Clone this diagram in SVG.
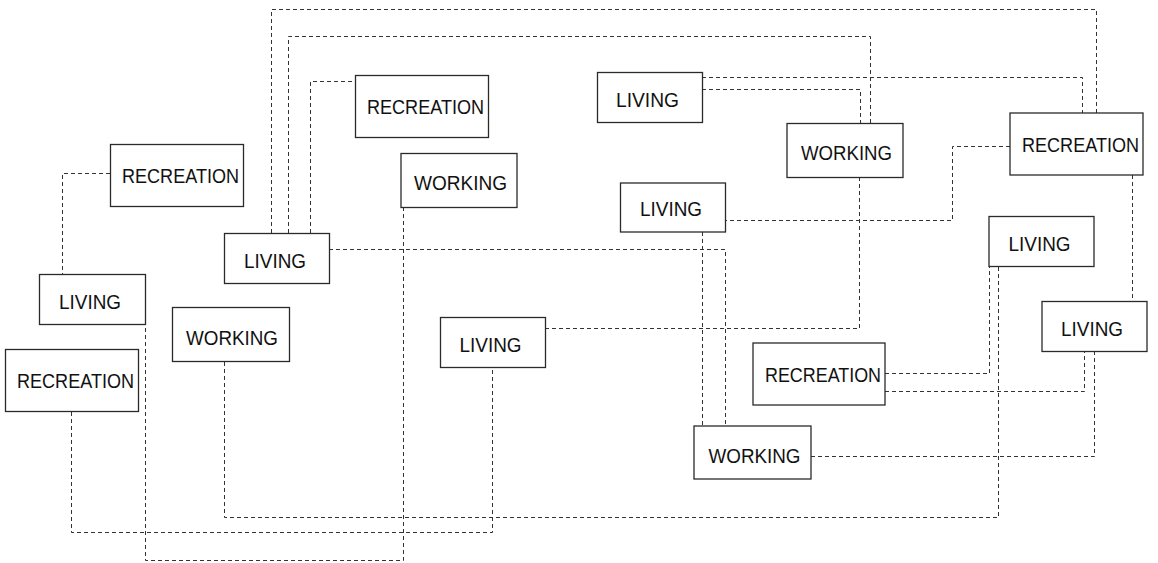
<svg xmlns="http://www.w3.org/2000/svg" width="1158" height="563" viewBox="0 0 1158 563">
<style>
.c{fill:none;stroke:#333;stroke-width:1;stroke-dasharray:4,3}
.b{fill:#fff;stroke:#2a2a2a;stroke-width:1.3}
.t{font-family:"Liberation Sans",Arial,sans-serif;font-size:21px;fill:#111}
</style>
<rect width="1158" height="563" fill="#fff"/>
<g id="connectors">
<path class="c" d="M110,173.5 H62.5 V274"/>
<path class="c" d="M271.5,233 V9.5 H1096.5 V113"/>
<path class="c" d="M288.5,233 V36.5 H870.5 V123"/>
<path class="c" d="M310.5,233 V81.5 H355"/>
<path class="c" d="M702,77.5 H1082.5 V113"/>
<path class="c" d="M702,89.5 H860.5 V123"/>
<path class="c" d="M1010,146.5 H952.5 V220.5 H725"/>
<path class="c" d="M859.5,177 V328.5 H545"/>
<path class="c" d="M1132.5,175 V302"/>
<path class="c" d="M329,249.5 H725.5 V426"/>
<path class="c" d="M702.5,232 V426"/>
<path class="c" d="M403.5,207 V560.5 H145.5 V324"/>
<path class="c" d="M71.5,412 V532.5 H492.5 V367"/>
<path class="c" d="M224.5,362 V517.5 H998.5 V266"/>
<path class="c" d="M885,373.5 H989.5 V266"/>
<path class="c" d="M885,391.5 H1084.5 V351"/>
<path class="c" d="M811,456.5 H1094.5 V351"/>
</g>
<g id="n1"><rect class="b" x="110.5" y="144.5" width="133" height="62"/><text class="t" x="122" y="183" textLength="117" lengthAdjust="spacingAndGlyphs">RECREATION</text></g>
<g id="n2"><rect class="b" x="355.5" y="75.5" width="133" height="62"/><text class="t" x="367" y="113.5" textLength="117" lengthAdjust="spacingAndGlyphs">RECREATION</text></g>
<g id="n3"><rect class="b" x="401" y="153.5" width="116" height="54"/><text class="t" x="414" y="190" textLength="93" lengthAdjust="spacingAndGlyphs">WORKING</text></g>
<g id="n4"><rect class="b" x="597.5" y="72.5" width="105" height="50"/><text class="t" x="616" y="106.5" textLength="63" lengthAdjust="spacingAndGlyphs">LIVING</text></g>
<g id="n5"><rect class="b" x="620.5" y="183" width="105" height="49"/><text class="t" x="640" y="216" textLength="62" lengthAdjust="spacingAndGlyphs">LIVING</text></g>
<g id="n6"><rect class="b" x="787" y="123.5" width="116" height="54"/><text class="t" x="801" y="160" textLength="91" lengthAdjust="spacingAndGlyphs">WORKING</text></g>
<g id="n7"><rect class="b" x="1010" y="113" width="133" height="62"/><text class="t" x="1022" y="152" textLength="117" lengthAdjust="spacingAndGlyphs">RECREATION</text></g>
<g id="n8"><rect class="b" x="39.5" y="274.5" width="106" height="50"/><text class="t" x="59" y="308.5" textLength="62" lengthAdjust="spacingAndGlyphs">LIVING</text></g>
<g id="n9"><rect class="b" x="224.5" y="233.5" width="105" height="50"/><text class="t" x="244" y="267.5" textLength="62" lengthAdjust="spacingAndGlyphs">LIVING</text></g>
<g id="n10"><rect class="b" x="172.5" y="307.5" width="117" height="54"/><text class="t" x="186" y="344.5" textLength="92" lengthAdjust="spacingAndGlyphs">WORKING</text></g>
<g id="n11"><rect class="b" x="5.5" y="349.5" width="133" height="62"/><text class="t" x="17" y="387.5" textLength="117" lengthAdjust="spacingAndGlyphs">RECREATION</text></g>
<g id="n12"><rect class="b" x="440.5" y="317.5" width="105" height="50"/><text class="t" x="459.5" y="351.5" textLength="62" lengthAdjust="spacingAndGlyphs">LIVING</text></g>
<g id="n13"><rect class="b" x="989" y="216.5" width="105" height="50"/><text class="t" x="1008.5" y="250.5" textLength="62" lengthAdjust="spacingAndGlyphs">LIVING</text></g>
<g id="n14"><rect class="b" x="1042" y="301.5" width="105" height="50"/><text class="t" x="1061" y="335.5" textLength="62" lengthAdjust="spacingAndGlyphs">LIVING</text></g>
<g id="n15"><rect class="b" x="753" y="343" width="132" height="62"/><text class="t" x="765" y="382" textLength="116" lengthAdjust="spacingAndGlyphs">RECREATION</text></g>
<g id="n16"><rect class="b" x="694" y="426" width="117" height="53"/><text class="t" x="708.5" y="462.5" textLength="92" lengthAdjust="spacingAndGlyphs">WORKING</text></g>
</svg>
